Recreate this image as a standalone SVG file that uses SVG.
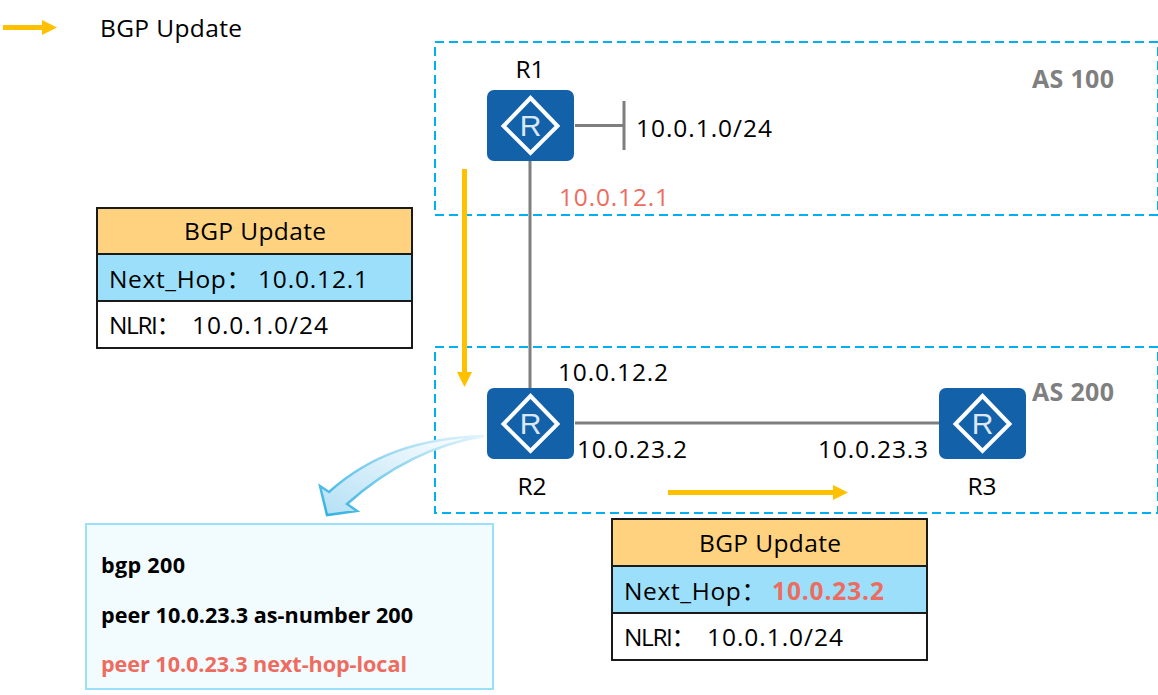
<svg xmlns="http://www.w3.org/2000/svg" width="1158" height="695" viewBox="0 0 1158 695">
<style>
text{font-family:"Open Sans","Noto Sans","Noto Sans CJK SC",sans-serif;font-size:24.500px;fill:#000}
.as{font-size:25px;font-weight:700;fill:#7f7f7f}
.red{fill:#ee6c5f}
.code{font-size:21.600px;font-weight:700}
.zone{fill:none;stroke:#00b0f0;stroke-width:2;stroke-dasharray:9 5}
.link{stroke:#7f7f7f;stroke-width:3;fill:none}
.arrow{stroke:#ffc000;stroke-width:5;fill:none}
.head{fill:#ffc000}
.box{stroke:#1a1a1a;stroke-width:2}
.router{fill:#1261a9}
.dia{fill:none;stroke:#fff;stroke-width:4}
.rl{font-family:"Liberation Sans",sans-serif;font-size:30px;fill:#dbe7f5}
</style>
<defs>
<linearGradient id="g" x1="1" y1="0" x2="0" y2="1"><stop offset="0" stop-color="#fff"/><stop offset="1" stop-color="#b4e0f5"/></linearGradient>
<linearGradient id="s" x1="1" y1="0" x2="0" y2="1"><stop offset="0" stop-color="#e4f4fb"/><stop offset="1" stop-color="#2fb0e2"/></linearGradient>
<g id="r"><rect class="router" x="-43.500" y="-35" width="87" height="71" rx="7"/><path class="dia" d="M0-27 27 1 0 28-27 1Z"/><text class="rl" x="0" y="11" text-anchor="middle">R</text></g>
</defs>
<rect width="1158" height="695" fill="#fff"/>
<g id="zones">
<rect id="as100" class="zone" x="435" y="42" width="723" height="173"/>
<rect id="as200" class="zone" x="435" y="347" width="723" height="166"/>
<text class="as" x="1032" y="88" textLength="82">AS 100</text>
<text class="as" x="1032" y="401" textLength="82">AS 200</text>
</g>
<g id="connectors">
<path class="link" d="M530 161V388M575 125.500H624M624 101V150M575 423H939"/>
<path class="arrow" d="M3 27.500H44"/><path class="head" d="M42 20 57 27.500 42 35Z"/>
<path class="arrow" d="M464.500 169V374"/><path class="head" d="M457 372H472L464.500 387Z"/>
<path class="arrow" d="M668 492.500H835"/><path class="head" d="M833 485 848 492.500 833 500Z"/>
<path d="M484 436C420 438 370 455 329 492L320 486 327 515 357 511 347 504C385 470 430 445 484 436Z" fill="url(#g)" stroke="url(#s)" stroke-width="2.500"/>
</g>
<g id="R1"><use href="#r" x="530.500" y="125"/><text x="515.500" y="78" textLength="29">R1</text></g>
<g id="R2"><use href="#r" x="530.500" y="423"/><text x="517.500" y="495" textLength="29">R2</text></g>
<g id="R3"><use href="#r" x="982.500" y="423"/><text x="967.500" y="495" textLength="29">R3</text></g>
<g id="labels">
<text x="100" y="37" textLength="142">BGP Update</text>
<text x="636" y="137" textLength="136">10.0.1.0/24</text>
<text class="red" x="559" y="206" textLength="110">10.0.12.1</text>
<text x="558" y="381" textLength="110">10.0.12.2</text>
<text x="577" y="458" textLength="110">10.0.23.2</text>
<text x="818" y="458" textLength="110">10.0.23.3</text>
</g>
<g id="update1">
<rect class="box" x="97" y="208" width="315" height="46" fill="#ffd27f"/>
<rect class="box" x="97" y="254" width="315" height="47" fill="#9bdffa"/>
<rect class="box" x="97" y="301" width="315" height="47" fill="#fff"/>
<text x="184" y="240" textLength="142">BGP Update</text>
<text x="109" y="288" textLength="142">Next_Hop：</text><text x="258" y="288" textLength="110">10.0.12.1</text>
<text x="109" y="334" textLength="72">NLRI：</text><text x="192" y="334" textLength="136">10.0.1.0/24</text>
</g>
<g id="update2">
<rect class="box" x="612" y="519" width="315" height="47" fill="#ffd27f"/>
<rect class="box" x="612" y="566" width="315" height="47" fill="#9bdffa"/>
<rect class="box" x="612" y="613" width="315" height="47" fill="#fff"/>
<text x="699" y="552" textLength="142">BGP Update</text>
<text x="624" y="600" textLength="142">Next_Hop：</text><text class="red" x="772" y="600" font-weight="700" textLength="112">10.0.23.2</text>
<text x="624" y="646" textLength="72">NLRI：</text><text x="707" y="646" textLength="136">10.0.1.0/24</text>
</g>
<g id="config">
<rect x="86" y="524" width="407" height="165" fill="#f2fbfe" stroke="#9bdffa" stroke-width="2"/>
<text class="code" x="101" y="573" textLength="84">bgp 200</text>
<text class="code" x="101" y="623" textLength="312">peer 10.0.23.3 as-number 200</text>
<text class="code red" x="101" y="672" textLength="306">peer 10.0.23.3 next-hop-local</text>
</g>
</svg>
